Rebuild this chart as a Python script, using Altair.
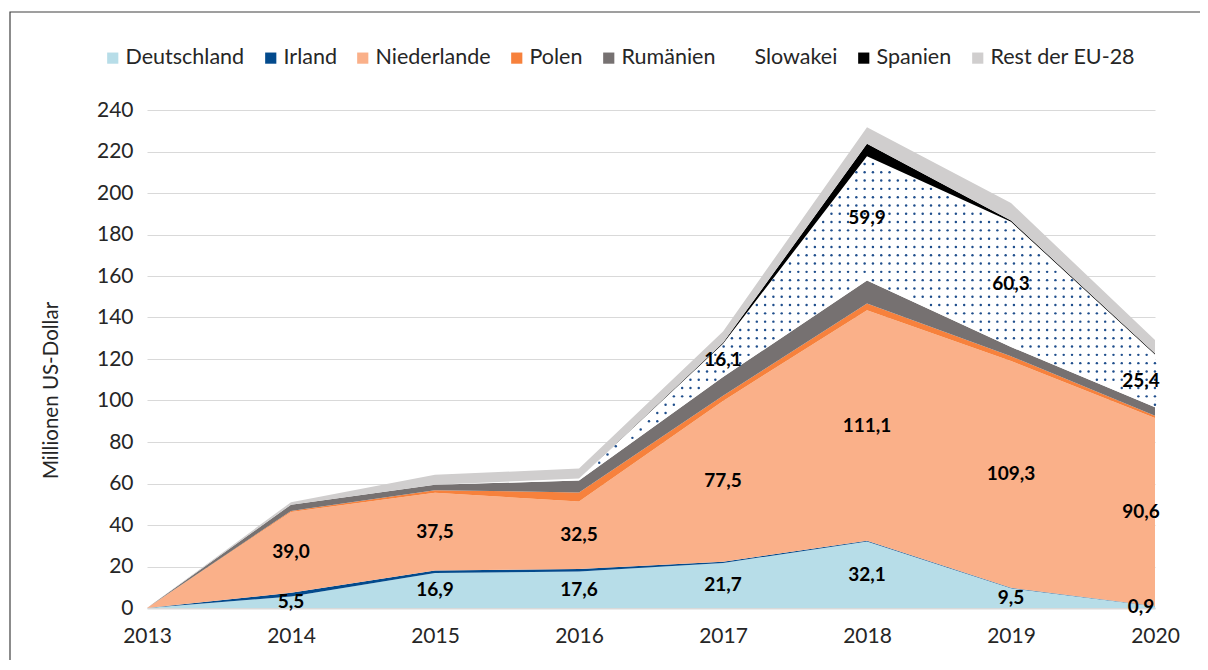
import altair as alt
import pandas as pd
import numpy as np

years = [2013, 2014, 2015, 2016, 2017, 2018, 2019, 2020]
series = ["Deutschland", "Irland", "Niederlande", "Polen", "Rumänien",
          "Slowakei", "Spanien", "Rest der EU-28"]
colors = ["#B7DDE8", "#034A8C", "#FAB089", "#F7813C", "#767171",
          "#FFFFFF", "#000000", "#D0CECE"]

deutschland = [0, 5.5, 16.9, 17.6, 21.7, 32.1, 9.5, 0.9]
irland = [0, 1.8, 1.2, 1.2, 0.6, 0.3, 0.2, 0.1]
niederlande = [0, 39.0, 37.5, 32.5, 77.5, 111.1, 109.3, 90.6]
polen = [0, 0.5, 1.2, 4.4, 2.5, 3.3, 2.3, 1.0]
rumaenien = [0, 3.0, 2.6, 5.7, 9.0, 11.0, 4.5, 4.2]
slowakei = [0, 0, 0, 1.0, 16.1, 59.9, 60.3, 25.4]
spanien = [0, 0, 0, 0, 0.4, 6.0, 0.6, 0.4]
rest = [0, 1.2, 4.8, 4.8, 5.5, 8.0, 8.5, 6.5]

values = [deutschland, irland, niederlande, polen, rumaenien, slowakei, spanien, rest]

# which series / years carry value labels
labelled = {"Deutschland": [2014, 2015, 2016, 2017, 2018, 2019, 2020],
            "Niederlande": [2014, 2015, 2016, 2017, 2018, 2019, 2020],
            "Slowakei": [2017, 2018, 2019, 2020]}

rows = []
for i, (s, vals) in enumerate(zip(series, values)):
    for y, v in zip(years, vals):
        rows.append({"year": y, "series": s, "value": v, "order": i})
df = pd.DataFrame(rows)

# cumulative positions for labels
cum = np.cumsum(np.array(values), axis=0)
lab_rows = []
for i, s in enumerate(series):
    if s in labelled:
        for j, y in enumerate(years):
            if y in labelled[s]:
                top = cum[i][j]
                bot = top - values[i][j]
                lab_rows.append({"year": y, "mid": (top + bot) / 2,
                                 "label": f"{values[i][j]:.1f}".replace(".", ","),
                                 "last": y == years[-1]})
labels = pd.DataFrame(lab_rows)

# dot texture for the Slowakei band
idx_s = series.index("Slowakei")
bottom_s = cum[idx_s - 1]
top_s = cum[idx_s]
xs = np.arange(2013.03, 2020.0, 0.0576)
ys = np.arange(2.0, 240, 4.0)
dots = []
for r, yv in enumerate(ys):
    for xv in xs:
        b = np.interp(xv, years, bottom_s)
        t = np.interp(xv, years, top_s)
        if b + 1.0 < yv < t - 1.0:
            dots.append({"x": xv, "y": yv})
dots = pd.DataFrame(dots)

xscale = alt.Scale(domain=[2013, 2020], nice=False, zero=False)
yscale = alt.Scale(domain=[0, 240], nice=False)

area = alt.Chart(df).mark_area(opacity=1, strokeWidth=0).encode(
    x=alt.X("year:Q", scale=xscale,
            axis=alt.Axis(values=years, format="d", title=None, grid=False,
                          ticks=False, domainColor="#D9D9D9", domainWidth=2,
                          labelFontSize=21, labelPadding=17, labelColor="#262626",
                          labelFlush=False)),
    y=alt.Y("value:Q", stack="zero", scale=yscale,
            axis=alt.Axis(values=list(range(0, 241, 20)), title="Millionen US-Dollar",
                          titleFontSize=20.5, titleFontWeight="normal", titleColor="#262626",
                          titlePadding=35, titleY=280, labelFontSize=21, labelPadding=14,
                          labelColor="#262626", ticks=False, domain=False,
                          gridColor="#D9D9D9", gridWidth=1)),
    color=alt.Color("series:N", sort=series,
                    scale=alt.Scale(domain=series, range=colors),
                    legend=alt.Legend(title=None, orient="none", direction="horizontal",
                                      legendX=-45, legendY=-63, symbolType="square",
                                      symbolSize=125, symbolStrokeWidth=0,
                                      labelFontSize=21.5, labelColor="#262626",
                                      columnPadding=15, symbolOffset=0, labelOffset=2)),
    order=alt.Order("order:Q", sort="ascending"),
)

dot_layer = alt.Chart(dots).mark_circle(size=6, opacity=1, color="#1F4E8C").encode(
    x=alt.X("x:Q", scale=xscale),
    y=alt.Y("y:Q", scale=yscale),
)

text_main = alt.Chart(labels).transform_filter("!datum.last").mark_text(
    fontSize=19, fontWeight="bold", color="#000000", align="center", baseline="middle"
).encode(x=alt.X("year:Q", scale=xscale), y=alt.Y("mid:Q", scale=yscale), text="label:N")

text_last = alt.Chart(labels).transform_filter("datum.last").mark_text(
    fontSize=19, fontWeight="bold", color="#000000", align="center", baseline="middle", dx=-14
).encode(x=alt.X("year:Q", scale=xscale), y=alt.Y("mid:Q", scale=yscale), text="label:N")

frame = alt.Chart(pd.DataFrame({"k": [0]})).mark_rect(
    fillOpacity=0, stroke="#404040", strokeWidth=1.2
).encode(x=alt.value(-137), x2=alt.value(1200), y=alt.value(-98), y2=alt.value(700))

chart = alt.layer(area, dot_layer, text_main, text_last, frame).properties(
    width=1008, height=498,
    autosize=alt.AutoSizeParams(type="none"),
    padding={"left": 139, "top": 102, "right": 45, "bottom": 52},
).configure(font="Lato").configure_view(stroke=None)

chart.save("out.html", embed_options={"renderer": "svg", "actions": False})
